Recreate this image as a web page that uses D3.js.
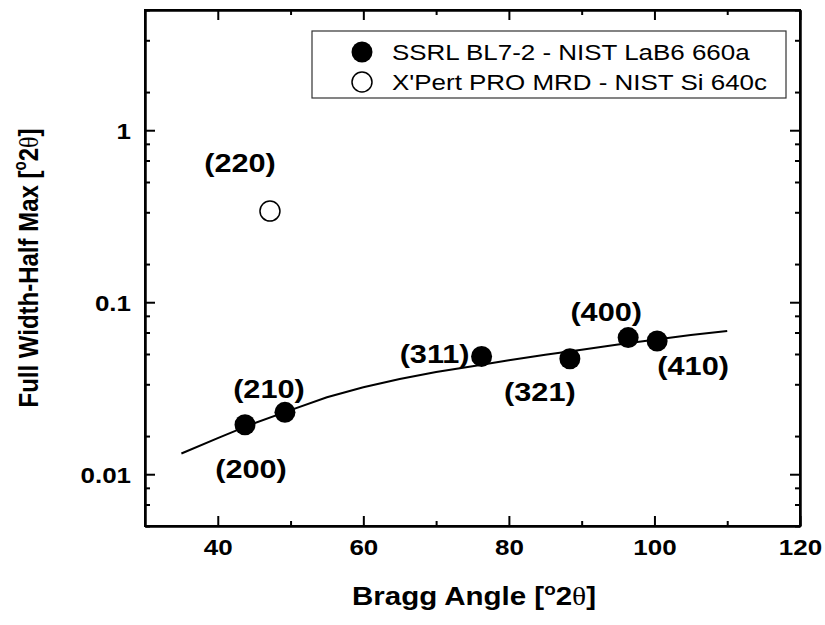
<!DOCTYPE html>
<html><head><meta charset="utf-8">
<script src="https://cdn.jsdelivr.net/npm/d3@7"></script>
<style>
body{margin:0;background:#fff}
text{font-family:"Liberation Sans",Arial,sans-serif;fill:#000}
</style>
</head><body>
<svg id="c" width="825" height="625"></svg>
<script>
// ---- data ----
const peakLabels = ["(200)","(210)","(311)","(321)","(400)","(410)"];
const lab6Angle  = [43.74, 49.23, 76.25, 88.38, 96.39, 100.37];
const lab6Fwhm   = [0.0194, 0.0229, 0.0484, 0.0469, 0.0623, 0.0595];
const siLabels   = ["(220)"];
const siAngle    = [47.17];
const siFwhm     = [0.339];
const fitAngle   = [35, 40, 45, 50, 55, 60, 65, 70, 75, 80, 85, 90, 95, 100, 105, 110];
const fitFwhm    = [0.0132, 0.0162, 0.0198, 0.0236, 0.0280, 0.0320, 0.0358, 0.0393, 0.0425, 0.0460, 0.0495, 0.0530, 0.0568, 0.0605, 0.0645, 0.0680];
const xTickValues = [40, 60, 80, 100, 120];
const xMinorValues = [50, 70, 90, 110];
const yTickValues = [0.01, 0.1, 1];
const yTickLabels = ["0.01", "0.1", "1"];
const seriesNames = ["SSRL BL7-2 - NIST LaB6 660a", "X'Pert PRO MRD - NIST Si 640c"];

// ---- layout ----
const L = 145, R = 800, T = 10, B = 526;
const SX = 1.18; // horizontal text stretch
const labelOffsets = [[6,53],[-16,-14],[-47,7],[-30,42],[-22,-17],[36,34]];
const siLabelOffsets = [[-30,-39]];

const svg = d3.select("#c");
const x = d3.scaleLinear().domain([30, 120]).range([L, R]);
const y = d3.scaleLog().domain([0.005, 5]).range([B, T]);

// minor log ticks: k/6 of each decade top
const yMinor = [];
[0.01, 0.1, 1, 10].forEach(top => { for (let k = 1; k <= 5; k++) { const v = top * k / 6; if (v >= 0.005 && v <= 5.0001) yMinor.push(v); } });

function styleAxis(g) {
  g.selectAll("path.domain").attr("stroke", "#000").attr("stroke-width", 2);
  g.selectAll(".tick line").attr("stroke", "#000").attr("stroke-width", 2);
}

// bottom
const gb = svg.append("g").attr("transform", `translate(0,${B})`)
  .call(d3.axisBottom(x).tickValues(xTickValues).tickSizeInner(-10).tickSizeOuter(0).tickPadding(0).tickFormat(d3.format("d")));
styleAxis(gb);
gb.selectAll(".tick text").attr("y", null).attr("dy", null)
  .attr("transform", `translate(0,29) scale(${SX},1)`)
  .style("font-size", "22px").style("font-weight", "bold").attr("font-family", null);
svg.append("g").attr("transform", `translate(0,${B})`)
  .call(d3.axisBottom(x).tickValues(xMinorValues).tickSizeInner(-5).tickSizeOuter(0).tickFormat(""))
  .call(styleAxis);
// top
svg.append("g").attr("transform", `translate(0,${T})`)
  .call(d3.axisTop(x).tickValues(xTickValues).tickSizeInner(-10).tickSizeOuter(0).tickFormat(""))
  .call(styleAxis);
svg.append("g").attr("transform", `translate(0,${T})`)
  .call(d3.axisTop(x).tickValues(xMinorValues).tickSizeInner(-5).tickSizeOuter(0).tickFormat(""))
  .call(styleAxis);
// left
const gl = svg.append("g").attr("transform", `translate(${L},0)`)
  .call(d3.axisLeft(y).tickValues(yTickValues).tickSizeInner(-10).tickSizeOuter(0)
    .tickFormat((d, i) => yTickLabels[i]));
styleAxis(gl);
gl.selectAll(".tick text").attr("x", null).attr("dy", null)
  .attr("transform", `translate(-14,8) scale(${SX},1)`)
  .style("font-size", "22px").style("font-weight", "bold").attr("font-family", null);
svg.append("g").attr("transform", `translate(${L},0)`)
  .call(d3.axisLeft(y).tickValues(yMinor).tickSizeInner(-5).tickSizeOuter(0).tickFormat(""))
  .call(styleAxis);
// right
svg.append("g").attr("transform", `translate(${R},0)`)
  .call(d3.axisRight(y).tickValues(yTickValues).tickSizeInner(-10).tickSizeOuter(0).tickFormat(""))
  .call(styleAxis);
svg.append("g").attr("transform", `translate(${R},0)`)
  .call(d3.axisRight(y).tickValues(yMinor).tickSizeInner(-5).tickSizeOuter(0).tickFormat(""))
  .call(styleAxis);
// frame
svg.append("rect").attr("x", L).attr("y", T).attr("width", R - L).attr("height", B - T)
  .attr("fill", "none").attr("stroke", "#000").attr("stroke-width", 2);

// fit line
const line = d3.line().x(d => x(d[0])).y(d => y(d[1]));
svg.append("path").datum(fitAngle.map((a, i) => [a, fitFwhm[i]]))
  .attr("d", line).attr("fill", "none").attr("stroke", "#000").attr("stroke-width", 2);

// LaB6 points
svg.append("g").selectAll("circle").data(lab6Angle).join("circle")
  .attr("cx", d => x(d)).attr("cy", (d, i) => y(lab6Fwhm[i])).attr("r", 10.5).attr("fill", "#000");
// Si point
svg.append("g").selectAll("circle").data(siAngle).join("circle")
  .attr("cx", d => x(d)).attr("cy", (d, i) => y(siFwhm[i])).attr("r", 10)
  .attr("fill", "#fff").attr("stroke", "#000").attr("stroke-width", 1.5);

// peak labels
function lbl(txt, px, py) {
  svg.append("text").attr("transform", `translate(${px},${py}) scale(${SX},1)`)
    .attr("text-anchor", "middle").style("font-size", "26px").style("font-weight", "bold").text(txt);
}
peakLabels.forEach((t, i) => lbl(t, x(lab6Angle[i]) + labelOffsets[i][0], y(lab6Fwhm[i]) + labelOffsets[i][1]));
siLabels.forEach((t, i) => lbl(t, x(siAngle[i]) + siLabelOffsets[i][0], y(siFwhm[i]) + siLabelOffsets[i][1]));

// legend
svg.append("rect").attr("x", 312).attr("y", 31).attr("width", 474).attr("height", 67)
  .attr("fill", "#fff").attr("stroke", "#333").attr("stroke-width", 1.2);
const legY = [52, 82];
svg.append("circle").attr("cx", 362).attr("cy", legY[0]).attr("r", 10.5).attr("fill", "#000");
svg.append("circle").attr("cx", 362).attr("cy", legY[1]).attr("r", 10).attr("fill", "#fff").attr("stroke", "#000").attr("stroke-width", 1.5);
seriesNames.forEach((s, i) => {
  svg.append("text").attr("transform", `translate(392,${legY[i] + 8}) scale(${SX},1)`)
    .style("font-size", "22px").text(s);
});

// axis titles
function title(g) {
  g.style("font-weight", "bold");
  return g;
}
const xt = svg.append("text").attr("transform", `translate(474,605) scale(${SX},1)`)
  .attr("text-anchor", "middle").style("font-size", "25px").call(title);
xt.append("tspan").text("Bragg Angle [");
xt.append("tspan").text("o").style("font-size", "16px").attr("dy", -10);
xt.append("tspan").text("2").attr("dy", 10);
xt.append("tspan").text("θ").style("font-family", "'Liberation Serif',serif").style("font-weight", "normal");
xt.append("tspan").text("]");

const yt = svg.append("text").attr("transform", `translate(38,268) scale(${SX},1) rotate(-90)`)
  .attr("text-anchor", "middle").style("font-size", "24px").call(title);
yt.append("tspan").text("Full Width-Half Max [");
yt.append("tspan").text("o").style("font-size", "15px").attr("dy", -10);
yt.append("tspan").text("2").attr("dy", 10);
yt.append("tspan").text("θ").style("font-family", "'Liberation Serif',serif").style("font-weight", "normal");
yt.append("tspan").text("]");
</script>
</body></html>
